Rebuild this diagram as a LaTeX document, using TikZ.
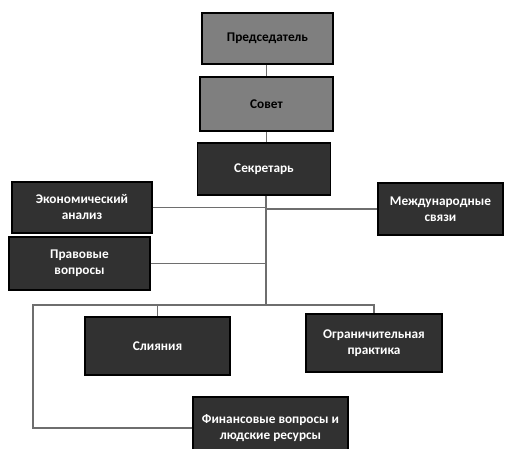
\documentclass[tikz,border=0pt]{standalone}
\usepackage{fontspec}
\setmainfont{Carlito}[BoldFont={Carlito Bold}]
\usepackage{tikz}
\usetikzlibrary{positioning, calc}
\usepackage{xcolor}
\definecolor{org-grey}{HTML}{7F7F7F}
\definecolor{org-dark}{HTML}{313131}
\definecolor{org-line}{HTML}{6E6E6E}

\begin{document}
\begin{tikzpicture}[x=1pt, y=-1pt,
		unit/.style={draw=black, line width=1.4pt, align=center, inner sep=0pt, font=\fontsize{13.3}{16}\selectfont\bfseries},
		head/.style={unit, fill=org-grey, text=black},
		dept/.style={unit, fill=org-dark, text=white},
		link/.style={draw=org-line, line width=1.1pt}]
					\useasboundingbox (0,0) rectangle (505,448);
					
					\node[head, minimum width=131pt, minimum height=51pt] at (267.5, 38.5) (chair) {Председатель};
					\node[head, minimum width=133pt, minimum height=54pt] at (266.5, 104) (council) {Совет};
					\node[dept, minimum width=133pt, minimum height=52pt] at (264, 169) (secr) {Секретарь};
					
					\node[dept, minimum width=140pt, minimum height=51pt] at (82, 207.5) (econ) {Экономический\\анализ};
					\node[dept, minimum width=141pt, minimum height=53pt] at (79.5, 263.5) (legal) {Правовые\\вопросы};
					\node[dept, minimum width=125pt, minimum height=52pt] at (440.5, 209) (intl) {Международные\\связи};
					
					\node[dept, minimum width=145pt, minimum height=58pt] at (157.5, 346) (merge) {Слияния};
					\node[dept, minimum width=136pt, minimum height=58pt] at (374, 343) (restr) {Ограничительная\\практика};
					\node[dept, minimum width=155pt, minimum height=62pt] at (270.5, 428) (fin) {Финансовые вопросы и\\людские ресурсы};
					
					\coordinate (bus) at (266, 305);
					\coordinate (busL) at (33, 305);
					
					\draw[link] (chair.south -| council.north) -- (council.north);
					\draw[link] (council.south) -- (council.south |- secr.north);
					\draw[link] (secr.south -| bus) -- (bus);
					\draw[link] (econ.east) -- (econ.east -| bus);
					\draw[link] (legal.east) -- (legal.east -| bus);
					\draw[link] (intl.west) -- (intl.west -| bus);
					\draw[link] (fin.west) -| (busL) -- (busL -| restr.north) -- (restr.north);
					\draw[link] (merge.north) -- (merge.north |- busL);
				\end{tikzpicture}
\end{document}
